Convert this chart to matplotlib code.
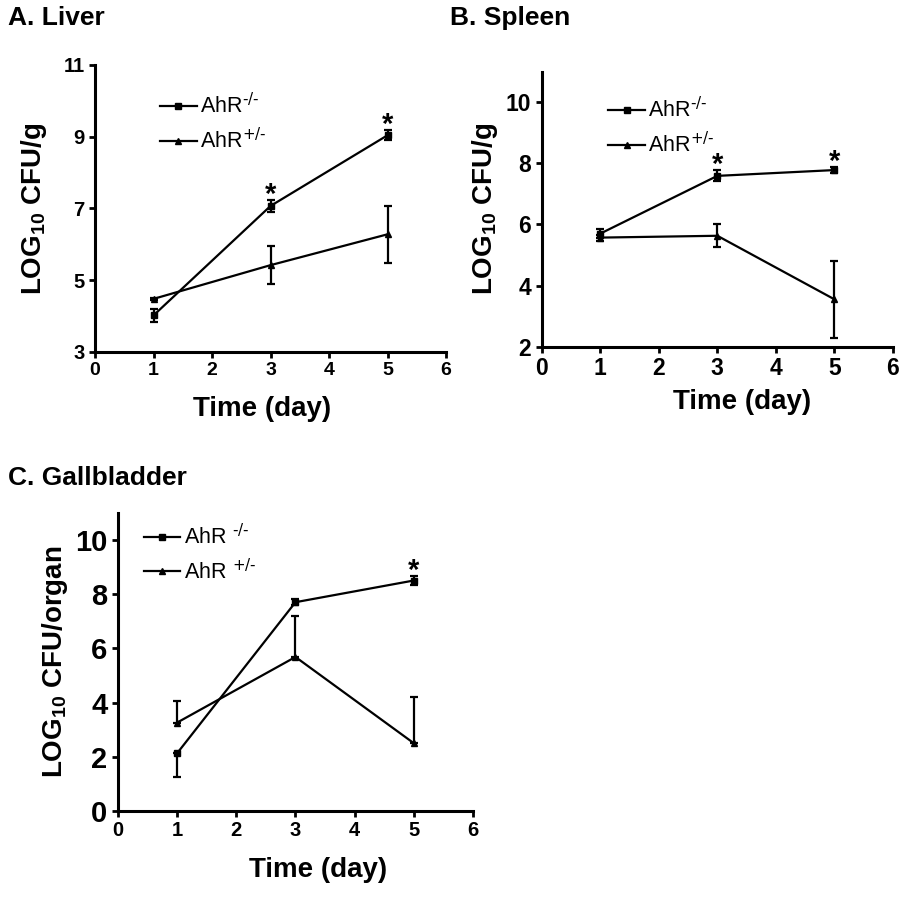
import numpy as np
from matplotlib import pyplot as plt
from matplotlib.lines import Line2D

plt.rcParams['font.family'] = ['Liberation Sans', 'DejaVu Sans']
plt.rcParams['mathtext.default'] = 'regular'

days = [1, 3, 5]

# A. Liver
liver_ko = [4.02, 7.07, 9.04]
liver_ko_err = [0.18, 0.17, 0.14]
liver_het = [4.48, 5.42, 6.28]
liver_het_err = [0.03, 0.52, 0.79]
liver_stars = [3, 5]

# B. Spleen
spleen_ko = [5.70, 7.59, 7.78]
spleen_ko_err = [0.15, 0.18, 0.10]
spleen_het = [5.57, 5.63, 3.55]
spleen_het_err = [0.10, 0.37, 1.25]
spleen_stars = [3, 5]

# C. Gallbladder (one-sided bars)
gall_ko = [2.13, 7.70, 8.50]
gall_ko_lo = [0.89, 0.10, 0.17]
gall_ko_hi = [0.0, 0.10, 0.17]
gall_het = [3.26, 5.68, 2.50]
gall_het_lo = [0.0, 0.0, 0.0]
gall_het_hi = [0.81, 1.50, 1.72]
gall_stars = [5]

x_ticks = [0, 1, 2, 3, 4, 5, 6]


def panel(ax, ko, ko_err, het, het_err, stars, ylim, yticks, ylab,
          ytick_size, xtick_size, leg_labels, leg_anchor, xlab_x, ylab_x):
    ax.errorbar(days, ko, yerr=ko_err, color='black', lw=1.6, marker='s', ms=4.5,
                capsize=3, elinewidth=1.6, capthick=1.6)
    ax.errorbar(days, het, yerr=het_err, color='black', lw=1.6, marker='^', ms=4,
                capsize=3, elinewidth=1.6, capthick=1.6)
    ko_top = np.array(ko) + np.atleast_2d(ko_err)[-1]
    for d in stars:
        i = days.index(d)
        ax.annotate('*', (d, ko_top[i]), xytext=(0, -2), textcoords='offset points',
                    ha='center', va='baseline', fontsize=21, fontweight='bold')
    ax.set_xlim(0, 6)
    ax.set_ylim(*ylim)
    ax.set_xticks(x_ticks)
    ax.set_yticks(yticks)
    for s in ['top', 'right']:
        ax.spines[s].set_visible(False)
    for s in ['left', 'bottom']:
        ax.spines[s].set_linewidth(2.2)
    ax.tick_params(direction='out', length=4, width=2)
    ax.tick_params(axis='y', labelsize=ytick_size)
    ax.tick_params(axis='x', labelsize=xtick_size)
    for t in ax.get_xticklabels() + ax.get_yticklabels():
        t.set_fontweight('bold')
    ax.set_xlabel('Time (day)', fontsize=20, fontweight='bold')
    ax.set_ylabel(ylab, fontsize=20, fontweight='bold')
    ax.xaxis.set_label_coords(xlab_x, -0.155)
    ax.yaxis.set_label_coords(ylab_x, 0.5)
    handles = [Line2D([], [], color='black', lw=1.6, marker='s', ms=4.5),
               Line2D([], [], color='black', lw=1.6, marker='^', ms=4)]
    ax.legend(handles, leg_labels, loc='center left', bbox_to_anchor=leg_anchor,
              frameon=False, fontsize=15.5, handlelength=1.7, handletextpad=0.15,
              labelspacing=0.45, borderpad=0, borderaxespad=0, numpoints=1)


fig = plt.figure(figsize=(9, 8.97), dpi=100)

ax1 = fig.add_axes([0.1056, 0.6076, 0.39, 0.32])
panel(ax1, liver_ko, liver_ko_err, liver_het, liver_het_err, liver_stars,
      (3, 11), [3, 5, 7, 9, 11], 'LOG$_{10}$ CFU/g', 14.5, 14,
      [r'AhR$^{\text{-/-}}$', r'AhR$^{\text{+/-}}$'], (0.185, 0.796), 0.476, -0.131)

ax2 = fig.add_axes([0.6019, 0.6135, 0.3903, 0.3066])
panel(ax2, spleen_ko, spleen_ko_err, spleen_het, spleen_het_err, spleen_stars,
      (2, 11), [2, 4, 6, 8, 10], 'LOG$_{10}$ CFU/g', 16.5, 16.5,
      [r'AhR$^{\text{-/-}}$', r'AhR$^{\text{+/-}}$'], (0.19, 0.797), 0.57, -0.12)

ax3 = fig.add_axes([0.1311, 0.0959, 0.3944, 0.3325])
panel(ax3, gall_ko, [gall_ko_lo, gall_ko_hi], gall_het, [gall_het_lo, gall_het_hi],
      gall_stars, (0, 11), [0, 2, 4, 6, 8, 10], 'LOG$_{10}$ CFU/organ', 21, 14.5,
      [r'AhR $^{\text{-/-}}$', r'AhR $^{\text{+/-}}$'], (0.073, 0.862), 0.565, -0.135)

fig.text(0.009, 0.972, 'A. Liver', fontsize=19, fontweight='bold', va='baseline')
fig.text(0.5, 0.972, 'B. Spleen', fontsize=19, fontweight='bold', va='baseline')
fig.text(0.009, 0.459, 'C. Gallbladder', fontsize=19, fontweight='bold', va='baseline')

plt.savefig('out.png', dpi=100)
